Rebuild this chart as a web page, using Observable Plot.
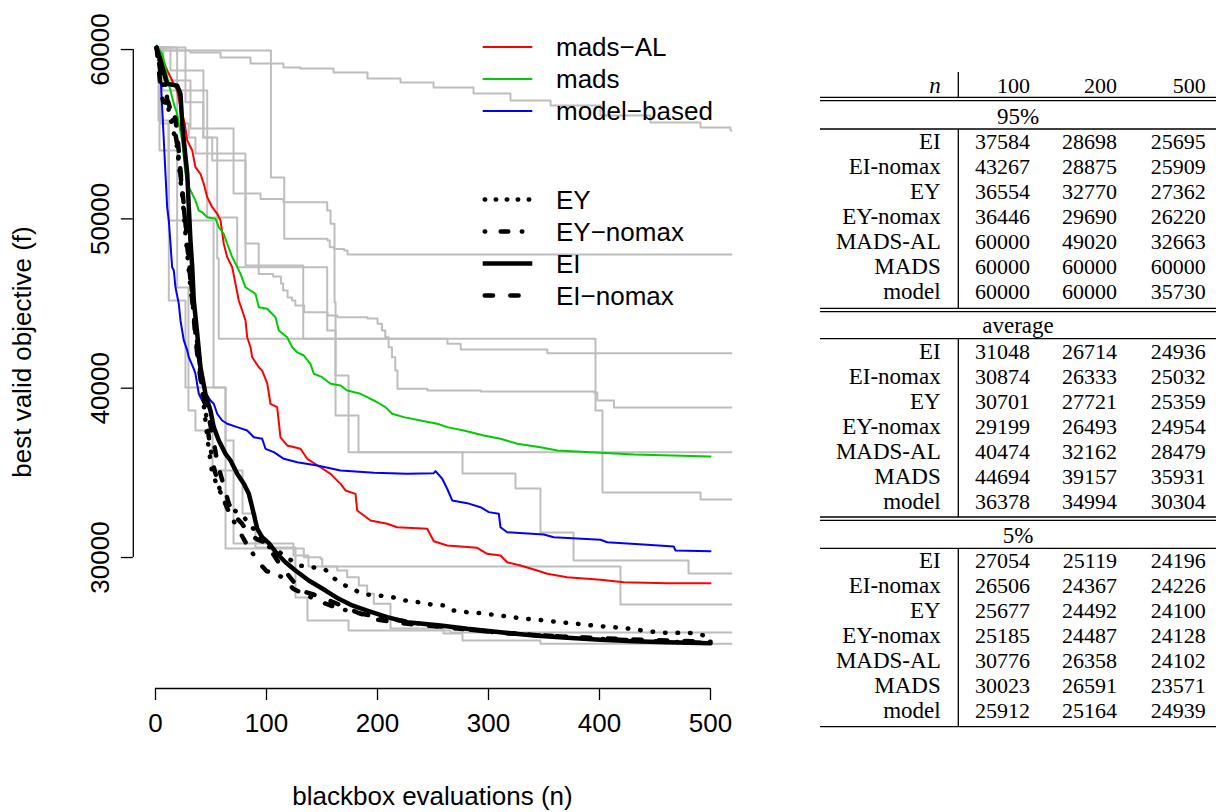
<!DOCTYPE html>
<html><head><meta charset="utf-8">
<script src="https://cdn.jsdelivr.net/npm/d3@7"></script>
<script src="https://cdn.jsdelivr.net/npm/@observablehq/plot@0.6"></script>
<style>
html,body{margin:0;padding:0;background:#fff;}
#wrap{position:relative;width:1216px;height:812px;overflow:hidden;background:#fff;}
#chart{position:absolute;left:0;top:0;}
#ov{position:absolute;left:0;top:0;}
</style></head>
<body><div id="wrap"><div id="chart"></div><svg id="ov" width="1216" height="812"></svg></div>
<script>
// ---------- data ----------
const xTicks = [0, 100, 200, 300, 400, 500];
const yTicks = [30000, 40000, 50000, 60000];
const xTitle = "blackbox evaluations (n)";
const yTitle = "best valid objective (f)";

// individual runs (grey step lines): [n, best f]
const greyRuns = [
  [[1,60120],[9,59940],[31.5,59820],[58.6,59530],[85.6,59170],[115.3,58940],[130.6,58880],[160.4,58640],[191,58290],[220.7,58050],[250.5,57760],[286.5,57400],[319.8,56990],[355.9,56690],[400.9,56100],[445.9,55690],[491,55390],[518,55220],[520,55220]],
  [[1,60120],[4,59940],[104,52440],[116,48820],[155,48720],[157,48330],[161,48220],[170,48130],[173,47900],[520,47900]],
  [[1,60120],[27,56890],[43,54800],[55.6,47660],[57,42920],[263,42620],[275,42280],[353,42070],[520,42070]],
  [[1,60120],[19.5,55630],[30,54800],[36,53860],[81,48540],[93,46750],[106,46600],[113,46180],[115,45770],[119,45360],[123,45180],[126,44880],[134,44490],[155,44290],[164,44190],[191,44120],[200,43800],[204,43410],[207,43010],[210,42420],[213,41830],[216,41040],[218,39960],[245,39860],[293,39800],[395,39740],[398,39270],[413,38860],[520,38860]],
  [[1,60120],[6.3,57580],[46.6,50080],[73.6,47140],[154.7,43410],[162.2,40750],[173.9,36220],[520,36220]],
  [[1,60120],[13.5,58760],[43.2,54800],[51.1,53450],[81.1,47240],[133.1,42920],[396.4,38680],[402.7,33840],[491,33430],[520,33430]],
  [[1,60120],[7.2,58170],[31.5,55340],[70.3,51500],[94.6,51180],[115.3,50980],[154.7,50490],[157.7,49710],[161.3,45080],[162.2,38390],[182.9,36220],[276.6,34960],[324.3,34080],[346.8,31480],[376.6,29820],[480.2,29060],[520,29060]],
  [[1,60120],[4.5,55630],[12,45180],[27,40040],[63.1,36910],[70.3,30830],[124.3,30120],[137.8,29470],[418.9,27230],[520,27230]],
  [[1,60120],[3.6,54040],[19.5,45950],[29.7,38680],[36,37500],[51.4,35140],[78.4,32600],[90.1,30590],[126.1,27640],[136.9,26280],[173.9,25690],[265.8,25570],[520,25570]],
  [[1,60120],[2.7,55810],[11.7,49900],[52.3,40040],[63.1,30530],[133.6,30020],[148.6,29920],[150.2,29470],[163.7,29230],[172.7,28840],[183.2,28350],[190.7,27860],[196.7,27270],[211.7,25810],[259.5,25510],[276.6,25100],[346.8,24900],[520,24900]]
];

const madsAL = [[1,60150],[13.5,58360],[19.5,57580],[22.5,56590],[26.4,55610],[28.6,54630],[33.1,54040],[36,53050],[40.5,52660],[43.5,52070],[46.6,51280],[51.1,50690],[55.6,50300],[58.6,49900],[61.5,48530],[64.6,47740],[69.1,47140],[72.1,46160],[75,45180],[78.1,44590],[81.1,44000],[82.6,43010],[85.6,42420],[87.1,41830],[93.1,41240],[96.1,41040],[100.6,40300],[103.6,39080],[109.6,38880],[112.6,37100],[118.6,36620],[130.6,36420],[136.7,35830],[148.6,35330],[157.7,34940],[166.7,34350],[171.2,33960],[180.2,33760],[181.7,32780],[193.7,32190],[208.7,31990],[217.7,31790],[244.8,31700],[250.7,30960],[262.8,30710],[289.8,30570],[298.8,30220],[310.8,30120],[316.8,29720],[328.8,29530],[343.9,29230],[352.9,29040],[370.9,28840],[400.9,28680],[421.9,28540],[461,28480],[500,28480]];

const mads = [[1,60240],[6,59750],[9,58960],[10.5,58360],[13.5,57580],[16.5,56790],[19.5,56200],[21,55610],[24.1,54630],[25.5,53640],[27,52660],[30,51870],[33.1,51480],[36,51080],[39,50490],[42.1,50390],[46.6,50100],[54.1,50000],[57,49510],[61.5,49120],[64.6,48530],[69.1,47740],[72.1,47350],[76.6,46750],[81.1,45960],[90.1,45570],[93.1,44780],[100.6,44690],[108.1,44190],[111.1,43410],[118.6,43010],[123.2,42420],[127.7,42120],[133.6,41930],[139.6,41440],[142.6,40850],[150.2,40650],[157.7,40260],[166.7,40160],[172.7,39860],[184.7,39670],[190.7,39470],[199.7,39170],[207.2,38880],[213.2,38490],[223.7,38290],[238.7,38090],[253.8,37900],[262.8,37700],[277.7,37500],[295.8,37210],[310.8,37010],[325.9,36720],[346.8,36510],[361.9,36320],[400.9,36180],[430.9,36080],[500,35960]];

const modelBased = [[1,60140],[3,59750],[4.5,58570],[6,56590],[7.5,54630],[9,52660],[10.5,50690],[12,49900],[13.5,48530],[15,47140],[16.5,46950],[18,45960],[21,44980],[22.5,44000],[25.5,42820],[28.6,42230],[30,41830],[34.5,41140],[36,40850],[39,39670],[43.5,39080],[46.6,39570],[49.5,39270],[52.5,39080],[55.6,38490],[60.1,38090],[64.6,37900],[73.6,37700],[82.6,37500],[88.6,37100],[96.1,37010],[99.1,36420],[106.6,36220],[115.6,35830],[127.7,35630],[145.7,35430],[166.7,35140],[196.7,35000],[226.8,34940],[250.7,34980],[252.3,35100],[258.3,34650],[262.8,34060],[267.3,33370],[280.8,33210],[292.8,32970],[300.3,32680],[309.3,32580],[310.8,31790],[316.8,31490],[349.8,31360],[358.8,31200],[400.9,31050],[406.9,30900],[442.9,30750],[466.9,30650],[468.5,30410],[500,30370]];

const EY = [[1,60100],[5,59000],[9,57900],[12,56360],[19.5,54230],[21,53250],[22.5,52260],[24,51500],[25.5,50300],[27,49120],[28.6,47940],[30,46950],[31.5,45960],[33.1,45180],[34.5,44390],[36,43210],[37.6,42420],[39,41830],[40.5,40850],[46.6,37110],[51.1,34940],[63.1,33170],[79.6,32380],[87.1,31790],[100,30700],[109.6,30410],[129.1,29530],[141.2,29430],[153.2,29270],[160.6,28780],[169.6,28390],[178.7,28090],[189.2,27820],[201.2,27760],[213.2,27660],[225.2,27460],[237.2,27360],[247.7,27230],[259.7,27170],[268.7,26870],[280.8,26770],[292.8,26710],[304.8,26620],[316.8,26520],[327.9,26420],[339.9,26340],[352,26280],[363.7,26180],[375.4,26120],[387.4,26030],[399.4,25950],[411.4,25890],[423.4,25830],[434.5,25730],[445.9,25630],[457.9,25560],[482,25540],[494,25400],[500,25360]];

const EYnomax = [[1,60100],[5,58500],[8,57500],[12,56800],[16,55800],[19,54600],[22,53000],[25,51000],[28,49000],[31,47000],[34,45000],[37,43000],[40,41400],[43,39800],[46,38200],[49,36600],[53,35200],[58,34000],[64,33000],[70,32200],[76,31500],[82,30800],[88,30200],[93,29700],[100,29200],[110,29000],[117,28700],[124,28150],[135,27800],[150,27350],[165,27000],[180,26750],[200,26490],[230,26180],[260,25900],[300,25620],[350,25390],[400,25200],[450,25050],[500,24950]];

const EI = [[1,60100],[4.5,59350],[10.5,57980],[19.5,57870],[22.5,57380],[24.1,55610],[25.5,54630],[28.6,52660],[30,50690],[31.5,48720],[33.1,47140],[34.5,45180],[37.6,43210],[40.5,41240],[45,39670],[49.5,38680],[52.5,37700],[57,36910],[63.1,36120],[67.6,35730],[73.6,34940],[79.6,34350],[84.1,33760],[87.1,32970],[91.6,31710],[96.1,31200],[102.1,30850],[109.6,30220],[117.1,29720],[126.1,29230],[138.1,28640],[153.2,28050],[165.1,27560],[177.2,27170],[190.7,26870],[208.7,26480],[226.8,26180],[256.8,25990],[280.8,25790],[310.8,25590],[340.8,25390],[370.9,25260],[400.9,25140],[430.9,25060],[461,25000],[500,24940]];

const EInomax = [[1,60100],[3,58800],[5,57500],[7,56900],[14,56800],[18,55900],[20,54700],[23,52500],[26,50500],[28,49000],[30,47500],[32,46000],[34,44500],[36,43000],[38,41800],[41,40300],[44,39300],[48,38300],[52,37000],[56,35500],[60,34600],[66,33200],[72,32400],[78,32000],[84,31400],[92,31050],[100,30870],[105,30300],[110,29800],[118,29100],[124,28600],[133,28000],[143,27800],[155,27500],[168,27150],[182,26750],[200,26330],[225,26100],[250,25950],[280,25750],[310,25560],[350,25380],[400,25230],[450,25120],[500,25030]];

// legends
const legendColorLabels = ["mads\u2212AL", "mads", "model\u2212based"];
const legendColors = ["#ff0000", "#00cd00", "#0000ff"];
const legendTypeLabels = ["EY", "EY\u2212nomax", "EI", "EI\u2212nomax"];
const legendTypes = ["dotted", "dotdash", "solid", "dashed"];

// table
const tableCols = ["100", "200", "500"];
const methods = ["EI", "EI-nomax", "EY", "EY-nomax", "MADS-AL", "MADS", "model"];
const sectionNames = ["95%", "average", "5%"];
const q95 = [[37584,28698,25695],[43267,28875,25909],[36554,32770,27362],[36446,29690,26220],[60000,49020,32663],[60000,60000,60000],[60000,60000,35730]];
const avg = [[31048,26714,24936],[30874,26333,25032],[30701,27721,25359],[29199,26493,24954],[40474,32162,28479],[44694,39157,35931],[36378,34994,30304]];
const q05 = [[27054,25119,24196],[26506,24367,24226],[25677,24492,24100],[25185,24487,24128],[30776,26358,24102],[30023,26591,23571],[25912,25164,24939]];

// ---------- chart ----------
const sans = "'Liberation Sans', Arial, Helvetica, sans-serif";
const serif = "'Liberation Serif', 'Times New Roman', serif";
const W = 800, H = 812;
const xDomain = [-20, 520];
const yDomain = [22264, 61940];
const dashStyle = {dotted: "0.5 12", dotdash: "0.5 15.5 7.6 13.5", dashed: "8.3 17.3", solid: null};

const greyRows = greyRuns.flatMap((run, i) => run.map(([n, f]) => ({run: i, n, f})));
const P = (arr) => arr.map(([n, f]) => ({n, f}));

const plot = Plot.plot({
  width: W, height: H,
  marginLeft: 132.8, marginRight: W - 732.2, marginTop: 16.2, marginBottom: H - 688,
  x: {domain: xDomain},
  y: {domain: yDomain},
  style: {fontFamily: sans, fontSize: "26px", background: "transparent", color: "black", overflow: "visible"},
  marks: [
    Plot.line(greyRows, {x: "n", y: "f", z: "run", stroke: "#bebebe", strokeWidth: 2, curve: "step-after", clip: true}),
    Plot.line(P(madsAL), {x: "n", y: "f", stroke: legendColors[0], strokeWidth: 2}),
    Plot.line(P(mads), {x: "n", y: "f", stroke: legendColors[1], strokeWidth: 2}),
    Plot.line(P(modelBased), {x: "n", y: "f", stroke: legendColors[2], strokeWidth: 2}),
    Plot.line(P(EY), {x: "n", y: "f", stroke: "black", strokeWidth: 4.5, strokeDasharray: dashStyle.dotted, strokeLinecap: "round"}),
    Plot.line(P(EYnomax), {x: "n", y: "f", stroke: "black", strokeWidth: 4.5, strokeDasharray: dashStyle.dotdash, strokeLinecap: "round"}),
    Plot.line(P(EI), {x: "n", y: "f", stroke: "black", strokeWidth: 4.5, strokeLinecap: "round"}),
    Plot.line(P(EInomax), {x: "n", y: "f", stroke: "black", strokeWidth: 4.5, strokeDasharray: dashStyle.dashed, strokeLinecap: "round"}),
    Plot.ruleY([yDomain[0]], {x1: xTicks[0], x2: xTicks[xTicks.length - 1], stroke: "black", strokeWidth: 1.3}),
    Plot.ruleX([xDomain[0]], {y1: yTicks[0], y2: yTicks[yTicks.length - 1], stroke: "black", strokeWidth: 1.3}),
    Plot.axisX(xTicks, {tickSize: 12, tickPadding: 12.8, tickFormat: d => String(d), label: null, fontSize: 26, strokeWidth: 1.3}),
    Plot.axisY(yTicks, {tickSize: 12, tickPadding: 12, tickRotate: -90, tickFormat: d => String(d), label: null, fontSize: 26, strokeWidth: 1.3})
  ]
});
document.getElementById("chart").appendChild(plot);

// ---------- overlay: titles, legend, table ----------
const ov = d3.select("#ov");
ov.append("text").attr("x", 432.5).attr("y", 805).attr("text-anchor", "middle")
  .attr("font-family", sans).attr("font-size", 26).text(xTitle);
ov.append("text").attr("transform", "translate(31,352) rotate(-90)").attr("text-anchor", "middle")
  .attr("font-family", sans).attr("font-size", 26).text(yTitle);

legendColorLabels.forEach((lab, i) => {
  const cy = 47 + 32 * i;
  ov.append("line").attr("x1", 482.7).attr("x2", 532.3).attr("y1", cy).attr("y2", cy)
    .attr("stroke", legendColors[i]).attr("stroke-width", 2);
  ov.append("text").attr("x", 556).attr("y", cy + 9.3).attr("font-family", sans).attr("font-size", 26).text(lab);
});
legendTypeLabels.forEach((lab, i) => {
  const cy = 199.5 + 32 * i;
  const solid = legendTypes[i] === "solid";
  const ln = ov.append("line").attr("x1", solid ? 482.7 : 484.7).attr("x2", solid ? 532.3 : 530.3).attr("y1", cy).attr("y2", cy)
    .attr("stroke", "black").attr("stroke-width", 4.5).attr("stroke-linecap", solid ? "butt" : "round");
  const da = legendTypes[i] === "dotted" ? "0.5 10.5" : dashStyle[legendTypes[i]];
  if (da) ln.attr("stroke-dasharray", da);
  ov.append("text").attr("x", 556).attr("y", cy + 9.3).attr("font-family", sans).attr("font-size", 26).text(lab);
});

// table
const tx0 = 820, tx1 = 1216, vx = 958.3, labRight = 940.7, colRight = [1030, 1117, 1205.7], tCenter = 1018;
const fsNum = 22, fsLab = 23, base = 7.6;
function hline(y, w) { ov.append("line").attr("x1", tx0).attr("x2", tx1).attr("y1", y).attr("y2", y).attr("stroke", "black").attr("stroke-width", w || 1.3); }
function vline(y1, y2) { ov.append("line").attr("x1", vx).attr("x2", vx).attr("y1", y1).attr("y2", y2).attr("stroke", "black").attr("stroke-width", 1.3); }
function txt(x, y, s, anchor, size, italic) {
  ov.append("text").attr("x", x).attr("y", y + base).attr("text-anchor", anchor).attr("font-family", serif)
    .attr("font-size", size).attr("font-style", italic ? "italic" : "normal").text(s);
}
// header
txt(labRight, 85, "n", "end", fsLab, true);
tableCols.forEach((c, j) => txt(colRight[j], 85, c, "end", fsNum));
vline(72, 97.3);
const blocks = [
  {rows: q95, dbl: 97.3, label: 116.5, rule: 129, first: 141.7},
  {rows: avg, dbl: 308.3, label: 325, rule: 338.7, first: 351.7},
  {rows: q05, dbl: 517, label: 535, rule: 548.3, first: 560.3}
];
const ends = [308.3, 517, 726.7];
blocks.forEach((b, k) => {
  hline(b.dbl); hline(b.dbl + 3.4);
  txt(tCenter, b.label, sectionNames[k], "middle", fsLab);
  hline(b.rule);
  vline(b.rule, ends[k]);
  methods.forEach((m, i) => {
    const cy = b.first + 25 * i;
    txt(labRight, cy, m, "end", fsLab);
    b.rows[i].forEach((v, j) => txt(colRight[j], cy, String(v), "end", fsNum));
  });
});
hline(726.7);
</script>
</body></html>
